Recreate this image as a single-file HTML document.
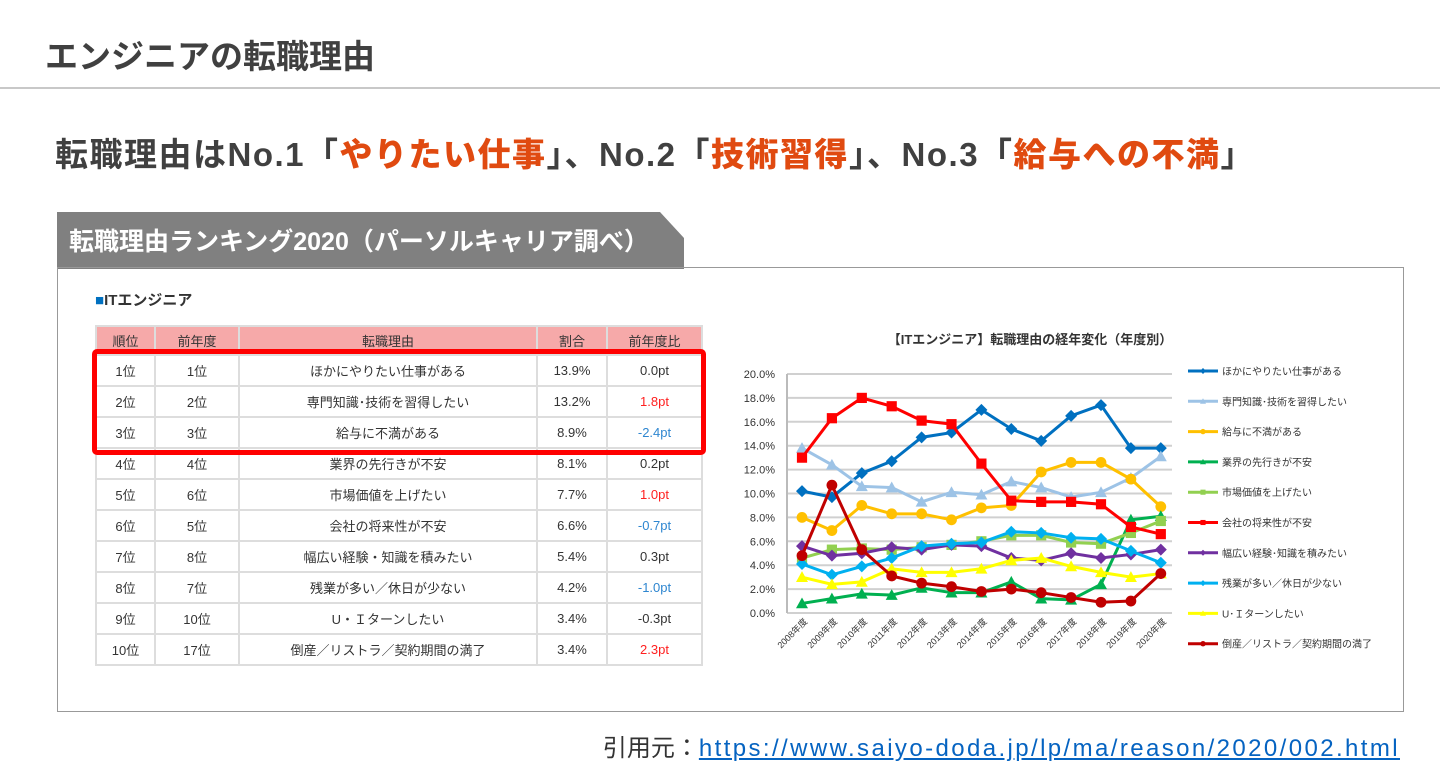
<!DOCTYPE html>
<html><head><meta charset="utf-8">
<style>
body{margin:0;width:1440px;height:770px;background:#fff;font-family:"Liberation Sans","Noto Sans CJK JP",sans-serif;position:relative;overflow:hidden}
.a{position:absolute}
.t1{left:45px;top:30px;font-size:33px;font-weight:bold;color:#404040}
.hr{left:0;top:87px;width:1440px;height:2px;background:#c8c8c8}
.t2{left:55px;top:128px;font-size:33px;font-weight:bold;color:#404040;white-space:nowrap;letter-spacing:1.5px}
.t2 b{color:#e04a10}
.panel{left:57px;top:267px;width:1347px;height:445px;border:1px solid #999;box-sizing:border-box}
.cite{right:40px;top:728px;font-size:24px;color:#333;white-space:nowrap}
.cite span{color:#0563c1;text-decoration:underline;letter-spacing:2.4px}
table{border-collapse:collapse;position:absolute;left:95px;top:325px;width:608px;font-size:13px;color:#333}
td,th{border:2px solid #ddd;text-align:center;height:29px;padding:0;font-weight:normal}
th{background:#f6a9a9;color:#333;height:27px}
.r{color:#ff2020}.b{color:#2e86d0}
</style></head><body>
<div class="a t1">エンジニアの転職理由</div>
<div class="a hr"></div>
<div class="a t2">転職理由はNo.1「<b>やりたい仕事</b>」、No.2「<b>技術習得</b>」、No.3「<b>給与への不満</b>」</div>
<svg class="a" style="left:57px;top:212px" width="630" height="57"><polygon points="0,0 603,0 627,26 627,57 0,57" fill="#808080"/><text x="12" y="38" font-size="25" font-weight="bold" fill="#fff" font-family="Liberation Sans,Noto Sans CJK JP,sans-serif">転職理由ランキング2020（パーソルキャリア調べ）</text></svg>
<div class="a panel"></div>
<div class="a" style="left:95px;top:289px;font-size:15px;font-weight:bold;color:#333"><span style="color:#0070c0">■</span>ITエンジニア</div>
<table>
<tr><th style="width:57px">順位</th><th style="width:82px">前年度</th><th>転職理由</th><th style="width:68px">割合</th><th style="width:93px">前年度比</th></tr>
<tr><td>1位</td><td>1位</td><td>ほかにやりたい仕事がある</td><td>13.9%</td><td>0.0pt</td></tr>
<tr><td>2位</td><td>2位</td><td>専門知識･技術を習得したい</td><td>13.2%</td><td class="r">1.8pt</td></tr>
<tr><td>3位</td><td>3位</td><td>給与に不満がある</td><td>8.9%</td><td class="b">-2.4pt</td></tr>
<tr><td>4位</td><td>4位</td><td>業界の先行きが不安</td><td>8.1%</td><td>0.2pt</td></tr>
<tr><td>5位</td><td>6位</td><td>市場価値を上げたい</td><td>7.7%</td><td class="r">1.0pt</td></tr>
<tr><td>6位</td><td>5位</td><td>会社の将来性が不安</td><td>6.6%</td><td class="b">-0.7pt</td></tr>
<tr><td>7位</td><td>8位</td><td>幅広い経験・知識を積みたい</td><td>5.4%</td><td>0.3pt</td></tr>
<tr><td>8位</td><td>7位</td><td>残業が多い／休日が少ない</td><td>4.2%</td><td class="b">-1.0pt</td></tr>
<tr><td>9位</td><td>10位</td><td>U・Ｉターンしたい</td><td>3.4%</td><td>-0.3pt</td></tr>
<tr><td>10位</td><td>17位</td><td>倒産／リストラ／契約期間の満了</td><td>3.4%</td><td class="r">2.3pt</td></tr>
</table>
<div class="a" style="left:92px;top:349px;width:604px;height:96px;border:5px solid #f00;border-radius:5px"></div>
<svg id="ch" class="a" style="left:0;top:0" width="1440" height="770"></svg>
<div class="a cite">引用元：<span>https://www.saiyo-doda.jp/lp/ma/reason/2020/002.html</span></div>
<script>
var S=[
["ほかにやりたい仕事がある","#0070c0","d",[10.2,9.7,11.7,12.7,14.7,15.1,17.0,15.4,14.4,16.5,17.4,13.8,13.8]],
["専門知識･技術を習得したい","#9dc3e6","t",[13.8,12.4,10.6,10.5,9.3,10.1,9.9,11.0,10.5,9.7,10.1,11.3,13.1]],
["給与に不満がある","#ffc000","c",[8.0,6.9,9.0,8.3,8.3,7.8,8.8,9.0,11.8,12.6,12.6,11.2,8.9]],
["業界の先行きが不安","#00b050","t",[0.8,1.2,1.6,1.5,2.1,1.7,1.7,2.6,1.2,1.1,2.4,7.8,8.1]],
["市場価値を上げたい","#92d050","s",[4.6,5.3,5.4,5.3,5.5,5.7,6.0,6.5,6.5,5.9,5.8,6.7,7.7]],
["会社の将来性が不安","#ff0000","s",[13.0,16.3,18.0,17.3,16.1,15.8,12.5,9.4,9.3,9.3,9.1,7.2,6.6]],
["幅広い経験･知識を積みたい","#7030a0","d",[5.6,4.8,5.0,5.5,5.3,5.7,5.6,4.6,4.4,5.0,4.6,4.9,5.3]],
["残業が多い／休日が少ない","#00b0f0","d",[4.1,3.2,3.9,4.6,5.6,5.8,5.9,6.8,6.7,6.3,6.2,5.2,4.2]],
["U･Ｉターンしたい","#ffff00","t",[3.0,2.4,2.6,3.7,3.4,3.4,3.7,4.4,4.6,3.9,3.4,3.0,3.3]],
["倒産／リストラ／契約期間の満了","#c00000","c",[4.8,10.7,5.3,3.1,2.5,2.2,1.8,2.0,1.7,1.3,0.9,1.0,3.3]]];
var h='',F='font-family="Liberation Sans,Noto Sans CJK JP,sans-serif"';
function X(i){return 802+i*29.9}function Y(v){return 613-v*11.95}
h+='<text x="1030" y="344" text-anchor="middle" font-size="13" font-weight="bold" fill="#333" '+F+'>【ITエンジニア】転職理由の経年変化（年度別）</text>';
for(var k=0;k<=10;k++){var y=Y(k*2);h+='<line x1="787" x2="1172" y1="'+y+'" y2="'+y+'" stroke="#d0d0d0" stroke-width="2"/>';
h+='<text x="775" y="'+(y+4)+'" text-anchor="end" font-size="11" fill="#333" '+F+'>'+(k*2).toFixed(1)+'%</text>';}
h+='<line x1="787" x2="787" y1="374" y2="613" stroke="#bbb" stroke-width="2"/>';
for(var i=0;i<13;i++){h+='<text transform="translate('+(X(i)+6)+',622) rotate(-45)" text-anchor="end" font-size="9" fill="#333" '+F+'>'+(2008+i)+'年度</text>';}
function mk(x,y,t,c,r){if(t=='d')return '<polygon points="'+x+','+(y-r)+' '+(x+r)+','+y+' '+x+','+(y+r)+' '+(x-r)+','+y+'" fill="'+c+'"/>';
if(t=='t')return '<polygon points="'+x+','+(y-r)+' '+(x+r)+','+(y+r*0.8)+' '+(x-r)+','+(y+r*0.8)+'" fill="'+c+'"/>';
if(t=='c')return '<circle cx="'+x+'" cy="'+y+'" r="'+(r*0.9)+'" fill="'+c+'"/>';
return '<rect x="'+(x-r*0.85)+'" y="'+(y-r*0.85)+'" width="'+(r*1.7)+'" height="'+(r*1.7)+'" fill="'+c+'"/>';}
S.forEach(function(s,j){var p=s[3].map(function(v,i){return X(i)+','+Y(v)}).join(' ');
h+='<polyline points="'+p+'" fill="none" stroke="'+s[1]+'" stroke-width="3"/>';
s[3].forEach(function(v,i){h+=mk(X(i),Y(v),s[2],s[1],6)});
var ly=371+j*30.3;h+='<line x1="1188" x2="1218" y1="'+ly+'" y2="'+ly+'" stroke="'+s[1]+'" stroke-width="3"/>'+mk(1203,ly,s[2],s[1],3)+
'<text x="1222" y="'+(ly+4)+'" font-size="10" fill="#333" '+F+'>'+s[0]+'</text>';});
document.getElementById('ch').innerHTML=h;
</script>
</body></html>
